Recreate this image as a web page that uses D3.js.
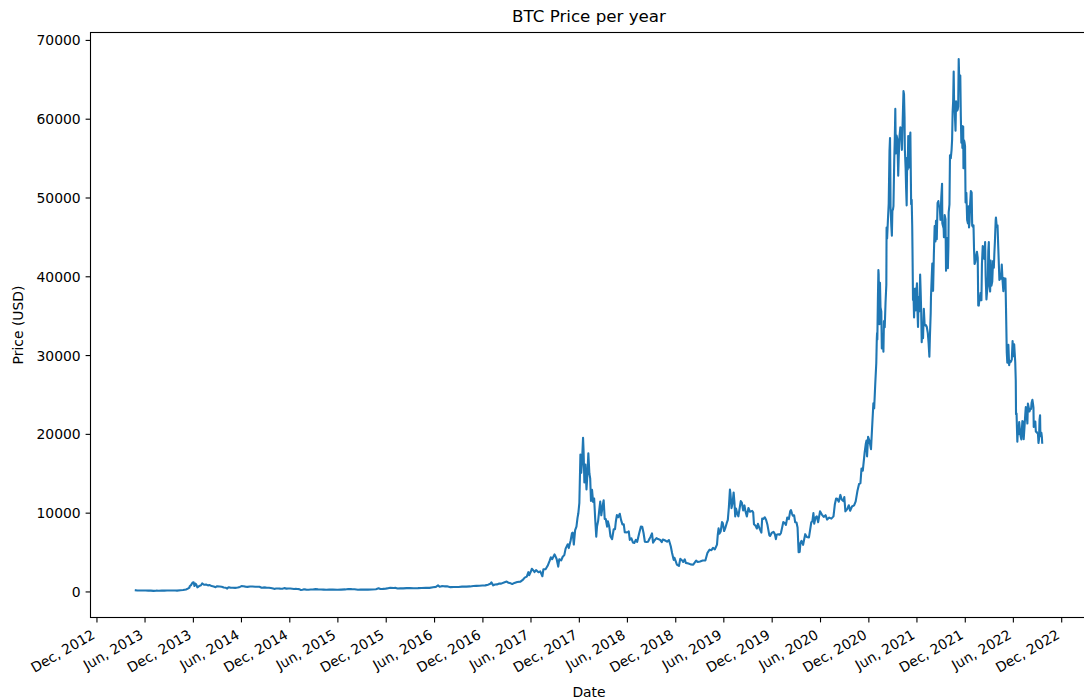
<!DOCTYPE html>
<html>
<head>
<meta charset="utf-8">
<title>BTC Price per year</title>
<script src="https://cdn.jsdelivr.net/npm/d3@7"></script>
<style>
  html, body { margin: 0; padding: 0; background: #fff; }
  svg { display: block; }
  text { font-family: "DejaVu Sans", sans-serif; fill: #000; }
</style>
</head>
<body>
<svg id="chart" width="1084" height="700"></svg>
<script>
// Daily closing prices (USD), sampled per year
const prices2013 = [
  ["2013-04-29",144.5],["2013-05-05",115.9],["2013-05-12",115.0],["2013-05-20",122.0],["2013-05-28",129.5],
  ["2013-06-05",121.4],["2013-06-15",100.4],["2013-06-25",103.5],["2013-07-05",68.4],["2013-07-15",98.2],
  ["2013-07-25",95.0],["2013-08-05",106.2],["2013-08-15",99.0],["2013-08-25",121.0],["2013-09-05",124.5],
  ["2013-09-15",126.0],["2013-09-25",122.0],["2013-10-02",105.0],["2013-10-15",156.0],["2013-10-25",185.0],
  ["2013-11-05",245.0],["2013-11-12",355.0],["2013-11-18",492.0],["2013-11-19",666.0],["2013-11-24",805.0],
  ["2013-11-30",1127.0],["2013-12-04",1151.0],["2013-12-07",704.0],["2013-12-10",1000.0],["2013-12-14",867],
  ["2013-12-18",522.0],["2013-12-22",621],["2013-12-27",734],["2013-12-31",754.0]
];
const prices2014 = [
  ["2014-01-05",1014],["2014-01-12",850],["2014-01-20",871],["2014-01-27",772],["2014-02-03",808],
  ["2014-02-10",681],["2014-02-18",622],["2014-02-25",535],["2014-03-03",667],["2014-03-12",629],
  ["2014-03-20",591],["2014-03-28",492],["2014-04-05",461],["2014-04-10",362],["2014-04-15",524],
  ["2014-04-22",489],["2014-05-01",460],["2014-05-10",453],["2014-05-20",491],["2014-05-28",574],
  ["2014-06-03",671],["2014-06-10",652],["2014-06-18",612],["2014-06-26",582],["2014-07-05",630],
  ["2014-07-15",622],["2014-07-25",599],["2014-08-02",588],["2014-08-10",594],["2014-08-18",467],
  ["2014-08-26",512],["2014-09-05",486],["2014-09-15",475],["2014-09-22",436],["2014-10-01",383],
  ["2014-10-05",322],["2014-10-12",378],["2014-10-20",382],["2014-10-28",357],["2014-11-05",339],
  ["2014-11-12",423],["2014-11-20",358],["2014-11-28",376],["2014-12-05",377],["2014-12-12",350],
  ["2014-12-19",317],["2014-12-26",327],["2014-12-31",320]
];
const prices2015 = [
  ["2015-01-07",294],["2015-01-14",178],["2015-01-20",211],["2015-01-26",274],["2015-02-03",227],
  ["2015-02-12",222],["2015-02-20",244],["2015-02-28",254],["2015-03-10",291],["2015-03-20",262],
  ["2015-03-31",244],["2015-04-10",236],["2015-04-20",224],["2015-05-01",232],["2015-05-15",237],
  ["2015-06-01",223],["2015-06-15",236],["2015-07-01",257],["2015-07-12",310],["2015-07-25",289],
  ["2015-08-05",281],["2015-08-18",211],["2015-08-28",231],["2015-09-10",238],["2015-09-25",234],
  ["2015-10-10",246],["2015-10-25",286],["2015-11-04",403],["2015-11-11",311],["2015-11-20",323],
  ["2015-12-01",362],["2015-12-10",416],["2015-12-18",464],["2015-12-31",430]
];
const prices2016 = [
  ["2016-01-08",453],["2016-01-15",375],["2016-01-25",392],["2016-02-05",386],["2016-02-18",422],
  ["2016-03-01",435],["2016-03-15",415],["2016-04-01",417],["2016-04-15",430],["2016-05-01",452],
  ["2016-05-15",457],["2016-05-28",530],["2016-06-08",582],["2016-06-16",766],["2016-06-22",593],
  ["2016-06-30",673],["2016-07-10",650],["2016-07-20",666],["2016-08-02",547],["2016-08-15",567],
  ["2016-09-01",572],["2016-09-15",607],["2016-10-01",616],["2016-10-15",638],["2016-10-28",689],
  ["2016-11-08",711],["2016-11-20",731],["2016-12-01",756],["2016-12-12",770],["2016-12-22",864],
  ["2016-12-31",963]
];
const prices2017 = [
  ["2017-01-04",1154],["2017-01-11",777],["2017-01-18",872],["2017-01-25",893],["2017-02-01",989],
  ["2017-02-10",995],["2017-02-23",1172],["2017-03-03",1259],["2017-03-10",1100],["2017-03-18",1029],
  ["2017-03-24",937],["2017-04-01",1080],["2017-04-12",1208],["2017-04-24",1251],["2017-05-04",1508],
  ["2017-05-10",1756],["2017-05-18",1885],["2017-05-24",2444],["2017-05-27",2062],["2017-06-02",2493],
  ["2017-06-06",2869],["2017-06-12",2659],["2017-06-16",2465],["2017-06-22",2712],["2017-07-01",2435],
  ["2017-07-08",2545],["2017-07-16",1929],["2017-07-20",2817],["2017-07-28",2809],["2017-08-05",3252],
  ["2017-08-12",3849],["2017-08-17",4332],["2017-08-22",4086],["2017-08-31",4703],["2017-09-02",4583],
  ["2017-09-08",4122],["2017-09-14",3154],["2017-09-18",4093],["2017-09-25",3927],["2017-10-01",4403],
  ["2017-10-07",4611],["2017-10-12",5432],["2017-10-20",5984],["2017-10-24",5505],["2017-10-31",6468],
  ["2017-11-05",7407],["2017-11-08",7459],["2017-11-12",5950],["2017-11-17",7790],["2017-11-22",8232],
  ["2017-11-26",9330],["2017-11-29",9888],["2017-12-03",11246],["2017-12-07",17390],["2017-12-10",15059],
  ["2017-12-13",16408],["2017-12-17",19497],["2017-12-19",17777],["2017-12-22",13831],["2017-12-26",16099],
  ["2017-12-30",12952]
];
const prices2018 = [
  ["2018-01-03",15201],["2018-01-06",17527],["2018-01-10",14973],["2018-01-13",14360],["2018-01-16",11490],
  ["2018-01-20",12899],["2018-01-24",11359],["2018-01-28",11786],["2018-02-01",9170],["2018-02-05",6955],
  ["2018-02-08",8277],["2018-02-12",8926],["2018-02-16",10233],["2018-02-20",11403],["2018-02-24",9665],
  ["2018-03-02",11035],["2018-03-05",11573],["2018-03-09",9206],["2018-03-13",9194],["2018-03-18",8223],
  ["2018-03-21",8915],["2018-03-26",8260],["2018-03-31",6973],["2018-04-06",6636],["2018-04-12",7895],
  ["2018-04-17",7903],["2018-04-20",8845],["2018-04-24",9697],["2018-04-29",9420],["2018-05-05",9858],
  ["2018-05-10",9053],["2018-05-15",8509],["2018-05-20",8531],["2018-05-24",7505],["2018-05-29",7502],
  ["2018-06-04",7514],["2018-06-08",7625],["2018-06-12",6549],["2018-06-18",6745],["2018-06-24",6205],
  ["2018-06-29",6153],["2018-07-05",6550],["2018-07-10",6301],["2018-07-17",7321],["2018-07-24",8243],
  ["2018-07-29",8221],["2018-08-03",7419],["2018-08-08",6305],["2018-08-14",6274],["2018-08-20",6310],
  ["2018-08-26",6709],["2018-08-30",6991],["2018-09-04",7366],["2018-09-08",6186],["2018-09-14",6499],
  ["2018-09-21",6773],["2018-09-27",6646],["2018-10-04",6575],["2018-10-11",6254],["2018-10-15",6598],
  ["2018-10-22",6497],["2018-10-31",6318],["2018-11-07",6531],["2018-11-14",5738],["2018-11-19",4871],
  ["2018-11-25",4009],["2018-11-28",4278],["2018-12-03",3820],["2018-12-07",3419],["2018-12-15",3236],
  ["2018-12-20",4134],["2018-12-24",4016],["2018-12-28",3923],["2018-12-31",3742]
];
const prices2019 = [
  ["2019-01-06",4076],["2019-01-10",3627],["2019-01-20",3545],["2019-01-28",3432],["2019-02-07",3397],
  ["2019-02-18",3914],["2019-02-24",3743],["2019-03-05",3808],["2019-03-15",3924],["2019-03-25",3934],
  ["2019-04-02",4906],["2019-04-10",5307],["2019-04-17",5236],["2019-04-23",5528],["2019-04-30",5350],
  ["2019-05-08",5951],["2019-05-11",7209],["2019-05-14",8000],["2019-05-17",7343],["2019-05-22",7627],
  ["2019-05-27",8805],["2019-05-30",8660],["2019-06-04",7675],["2019-06-08",7998],["2019-06-14",8693],
  ["2019-06-18",9081],["2019-06-22",10701],["2019-06-26",12936],["2019-06-28",12407],["2019-07-02",10578],
  ["2019-07-06",11209],["2019-07-10",12567],["2019-07-13",11353],["2019-07-16",9510],["2019-07-19",10535],
  ["2019-07-24",9846],["2019-07-28",9530],["2019-08-01",10400],["2019-08-06",11460],["2019-08-10",11283],
  ["2019-08-15",10282],["2019-08-20",10917],["2019-08-24",10140],["2019-08-29",9515],["2019-09-04",10594],
  ["2019-09-10",10115],["2019-09-18",10230],["2019-09-22",10030],["2019-09-25",8538],["2019-10-01",8345],
  ["2019-10-06",7989],["2019-10-10",8595],["2019-10-16",8000],["2019-10-23",7465],["2019-10-26",9244],
  ["2019-10-30",9199],["2019-11-05",9412],["2019-11-10",9078],["2019-11-15",8457],["2019-11-22",7146],
  ["2019-11-25",7048],["2019-12-01",7425],["2019-12-08",7570],["2019-12-13",7278],["2019-12-17",6640],
  ["2019-12-20",7189],["2019-12-26",7250],["2019-12-31",7193]
];
const prices2020 = [
  ["2020-01-05",7411],["2020-01-10",8166],["2020-01-14",8812],["2020-01-19",8706],["2020-01-24",8445],
  ["2020-01-29",9392],["2020-02-04",9180],["2020-02-09",10167],["2020-02-12",10326],["2020-02-16",9889],
  ["2020-02-19",9608],["2020-02-24",9663],["2020-02-28",8785],["2020-03-04",8755],["2020-03-08",8108],
  ["2020-03-12",4970],["2020-03-16",5014],["2020-03-19",6191],["2020-03-23",6416],["2020-03-29",5922],
  ["2020-04-06",7271],["2020-04-12",6913],["2020-04-20",6842],["2020-04-29",8787],["2020-05-03",8897],
  ["2020-05-07",9951],["2020-05-10",8601],["2020-05-15",9380],["2020-05-20",9523],["2020-05-25",8790],
  ["2020-06-01",10167],["2020-06-08",9758],["2020-06-15",9456],["2020-06-22",9686],["2020-06-28",9119],
  ["2020-07-06",9375],["2020-07-14",9243],["2020-07-22",9525],["2020-07-27",11029],["2020-08-01",11801],
  ["2020-08-05",11760],["2020-08-11",11393],["2020-08-17",12254],["2020-08-22",11664],["2020-08-28",11469],
  ["2020-09-01",11971],["2020-09-05",10169],["2020-09-12",10442],["2020-09-18",10944],["2020-09-23",10241],
  ["2020-09-30",10784],["2020-10-08",10932],["2020-10-14",11430],["2020-10-21",12823],["2020-10-27",13654],
  ["2020-11-01",13738],["2020-11-05",15590],["2020-11-10",15332],["2020-11-17",17645],["2020-11-21",18675],
  ["2020-11-24",19157],["2020-11-26",17149],["2020-11-30",19625],["2020-12-05",19155],["2020-12-11",18058],
  ["2020-12-16",21310],["2020-12-20",23869],["2020-12-23",23241],["2020-12-27",26273],["2020-12-31",29002]
];
const prices2021 = [
  ["2021-01-02",32128],["2021-01-03",32782],["2021-01-04",31971],["2021-01-06",36825],["2021-01-08",40797],
  ["2021-01-09",40254],["2021-01-11",35566],["2021-01-12",33923],["2021-01-14",39187],["2021-01-16",36069],
  ["2021-01-19",35547],["2021-01-21",30826],["2021-01-23",32067],["2021-01-25",32289],["2021-01-27",30433],
  ["2021-01-29",34318],["2021-02-01",33537],["2021-02-04",36630],["2021-02-07",38903],["2021-02-08",46196],
  ["2021-02-10",44807],["2021-02-13",47105],["2021-02-16",49199],["2021-02-19",55888],["2021-02-21",57539],
  ["2021-02-22",54207],["2021-02-23",48824],["2021-02-26",46340],["2021-02-28",45137],["2021-03-02",48378],
  ["2021-03-04",48436],["2021-03-06",48912],["2021-03-09",54824],["2021-03-11",57332],["2021-03-13",61243],
  ["2021-03-15",55605],["2021-03-18",57858],["2021-03-21",57351],["2021-03-24",52774],["2021-03-26",55137],
  ["2021-03-29",57750],["2021-04-01",58918],["2021-04-04",58758],["2021-04-07",56048],["2021-04-10",59793],
  ["2021-04-13",63503],["2021-04-15",63109],["2021-04-17",60204],["2021-04-18",56216],["2021-04-21",53787],
  ["2021-04-23",51094],["2021-04-25",49004],["2021-04-27",55033],["2021-04-29",53556],["2021-05-01",57807],
  ["2021-05-04",53805],["2021-05-07",57356],["2021-05-09",58232],["2021-05-12",49150],["2021-05-14",49717],
  ["2021-05-16",46424],["2021-05-17",43538],["2021-05-19",37002],["2021-05-21",37537],["2021-05-23",34771],
  ["2021-05-25",38402],["2021-05-27",38437],["2021-05-29",35678],["2021-05-31",37333],["2021-06-03",39097],
  ["2021-06-05",35520],["2021-06-07",33560],["2021-06-09",37345],["2021-06-12",35552],["2021-06-15",40218],
  ["2021-06-17",38053],["2021-06-19",35483],["2021-06-21",31637],["2021-06-23",33723],["2021-06-26",32127],
  ["2021-06-29",35867],["2021-07-02",33855],["2021-07-05",33747],["2021-07-07",33798],["2021-07-10",33588],
  ["2021-07-14",32822],["2021-07-17",31534],["2021-07-20",29807],["2021-07-22",32287],["2021-07-25",35351],
  ["2021-07-26",37337],["2021-07-29",40009],["2021-07-31",41627],["2021-08-03",38152],["2021-08-06",42816],
  ["2021-08-09",46365],["2021-08-12",44429],["2021-08-14",47047],["2021-08-17",44695],["2021-08-20",49321],
  ["2021-08-23",49546],["2021-08-25",48898],["2021-08-28",48897],["2021-08-31",47166],["2021-09-03",50035],
  ["2021-09-06",51753],["2021-09-07",46737],["2021-09-09",46434],["2021-09-12",46063],["2021-09-13",44963],
  ["2021-09-16",47761],["2021-09-19",47260],["2021-09-21",40693],["2021-09-23",44895],["2021-09-26",43208],
  ["2021-09-28",41034],["2021-09-30",43791],["2021-10-01",48116],["2021-10-04",49112],["2021-10-06",55361],
  ["2021-10-09",54968],["2021-10-12",56041],["2021-10-14",57321],["2021-10-16",60862],["2021-10-18",62211],
  ["2021-10-20",65993],["2021-10-22",60930],["2021-10-24",60894],["2021-10-27",58482],["2021-10-29",62210],
  ["2021-11-01",61004],["2021-11-04",61125],["2021-11-06",61527],["2021-11-08",67566],["2021-11-10",64995],
  ["2021-11-12",64155],["2021-11-14",65466],["2021-11-16",60368],["2021-11-18",56942],["2021-11-20",59111],
  ["2021-11-22",56289],["2021-11-25",59010],["2021-11-26",53727],["2021-11-28",57274],["2021-11-30",57006],
  ["2021-12-02",56509],["2021-12-04",49368],["2021-12-07",50582],["2021-12-10",47128],["2021-12-13",46707],
  ["2021-12-15",48896],["2021-12-17",46202],["2021-12-19",46880],["2021-12-21",48993],["2021-12-24",50810],
  ["2021-12-27",50640],["2021-12-29",46444],["2021-12-31",46306]
];
const prices2022 = [
  ["2022-01-03",46459],["2022-01-05",43503],["2022-01-07",41557],["2022-01-10",41822],["2022-01-13",42592],
  ["2022-01-16",43113],["2022-01-19",42375],["2022-01-21",36301],["2022-01-23",36276],["2022-01-24",36654],
  ["2022-01-27",37138],["2022-01-30",37917],["2022-02-02",36953],["2022-02-04",41574],["2022-02-07",43840],
  ["2022-02-10",43565],["2022-02-13",42199],["2022-02-16",44338],["2022-02-18",40030],["2022-02-21",37069],
  ["2022-02-24",38332],["2022-02-26",39105],["2022-02-28",43193],["2022-03-02",44358],["2022-03-04",39137],
  ["2022-03-07",38062],["2022-03-09",41983],["2022-03-12",38809],["2022-03-15",39336],["2022-03-18",41940],
  ["2022-03-21",41077],["2022-03-23",42916],["2022-03-25",44348],["2022-03-28",47128],["2022-03-29",47465],
  ["2022-04-01",46282],["2022-04-04",46453],["2022-04-07",43445],["2022-04-11",39530],["2022-04-14",39945],
  ["2022-04-17",39690],["2022-04-20",41502],["2022-04-23",39469],["2022-04-26",38117],["2022-04-28",39773],
  ["2022-05-01",38469],["2022-05-04",39698],["2022-05-06",36040],["2022-05-09",30297],["2022-05-11",29030],
  ["2022-05-12",29020],["2022-05-15",31305],["2022-05-18",28720],["2022-05-20",29268],["2022-05-23",29098],
  ["2022-05-26",29268],["2022-05-28",29445],["2022-05-31",31792],["2022-06-03",29864],["2022-06-06",31370],
  ["2022-06-08",30214],["2022-06-10",29091],["2022-06-12",26762],["2022-06-13",22487],["2022-06-15",22572],
  ["2022-06-18",19017],["2022-06-20",20553],["2022-06-22",19970],["2022-06-25",21500],["2022-06-27",20735],
  ["2022-06-30",19785],["2022-07-03",19297],["2022-07-07",21611],["2022-07-09",21587],["2022-07-12",19325],
  ["2022-07-15",20825],["2022-07-18",22485],["2022-07-20",23389],["2022-07-23",22579],["2022-07-26",21310],
  ["2022-07-28",23842],["2022-07-31",23337],["2022-08-03",22846],["2022-08-06",23175],["2022-08-09",23164],
  ["2022-08-11",23957],["2022-08-14",24319],["2022-08-16",23881],["2022-08-18",23336],["2022-08-19",20877],
  ["2022-08-22",21525],["2022-08-25",21565],["2022-08-27",20260],["2022-08-29",20297],["2022-09-01",20127],
  ["2022-09-04",19992],["2022-09-06",18837],["2022-09-08",19322],["2022-09-10",21770],["2022-09-12",22371],
  ["2022-09-13",20296],["2022-09-15",19701],["2022-09-17",20127],["2022-09-19",19545],["2022-09-20",18876]
];

// Axis ticks
const yTickValues = [0, 10000, 20000, 30000, 40000, 50000, 60000, 70000];
const xTickDates = [
  "2012-12-01","2013-06-01","2013-12-01","2014-06-01","2014-12-01","2015-06-01","2015-12-01",
  "2016-06-01","2016-12-01","2017-06-01","2017-12-01","2018-06-01","2018-12-01","2019-06-01",
  "2019-12-01","2020-06-01","2020-12-01","2021-06-01","2021-12-01","2022-06-01","2022-12-01"
];

const parseDate = d3.utcParse("%Y-%m-%d");
const rows = [].concat(prices2013, prices2014, prices2015, prices2016, prices2017,
                       prices2018, prices2019, prices2020, prices2021, prices2022)
  .map(([d, v]) => ({ date: parseDate(d), close: v }));

// Plot frame (the right edge runs slightly past the canvas)
const frame = { left: 90.5, right: 1087.5, top: 32.5, bottom: 617.5 };
const FONT = 13.9;

// 5% padding around the data on both axes
const [d0, d1] = d3.extent(rows, r => r.date);
const xPad = (d1 - d0) * 0.05;
const [v0, v1] = d3.extent(rows, r => r.close);
const yPad = (v1 - v0) * 0.05;

const x = d3.scaleUtc()
  .domain([new Date(+d0 - xPad), new Date(+d1 + xPad)])
  .range([frame.left, frame.right]);
const y = d3.scaleLinear()
  .domain([v0 - yPad, v1 + yPad])
  .range([frame.bottom, frame.top]);

const svg = d3.select("#chart");

svg.append("defs").append("clipPath").attr("id", "plot-clip")
  .append("rect")
  .attr("x", frame.left).attr("y", frame.top)
  .attr("width", frame.right - frame.left).attr("height", frame.bottom - frame.top);

// Price line
const line = d3.line().x(r => x(r.date)).y(r => y(r.close));
svg.append("path")
  .datum(rows)
  .attr("clip-path", "url(#plot-clip)")
  .attr("fill", "none")
  .attr("stroke", "#1f77b4")
  .attr("stroke-width", 2.1)
  .attr("stroke-linejoin", "round")
  .attr("stroke-linecap", "square")
  .attr("d", line);

// Spines
svg.append("rect")
  .attr("x", frame.left).attr("y", frame.top)
  .attr("width", frame.right - frame.left).attr("height", frame.bottom - frame.top)
  .attr("fill", "none").attr("stroke", "#000").attr("stroke-width", 1.1);

// X axis
const fmt = d3.utcFormat("%b, %Y");
const xAxis = d3.axisBottom(x)
  .tickValues(xTickDates.map(parseDate))
  .tickSize(4.9).tickSizeOuter(0)
  .tickFormat(fmt);
const gx = svg.append("g")
  .attr("transform", `translate(0,${frame.bottom})`)
  .call(xAxis);
gx.select(".domain").remove();
gx.selectAll(".tick line").attr("stroke", "#000").attr("stroke-width", 1.1);
gx.selectAll(".tick text")
  .attr("font-size", FONT)
  .attr("font-family", "DejaVu Sans, sans-serif")
  .attr("fill", "#000")
  .attr("text-anchor", "end")
  .attr("y", null).attr("dy", null)
  .attr("transform", "translate(-1,20) rotate(-30)");

// Y axis
const yAxis = d3.axisLeft(y)
  .tickValues(yTickValues)
  .tickSize(4.9).tickSizeOuter(0)
  .tickPadding(4.9)
  .tickFormat(d3.format("d"));
const gy = svg.append("g")
  .attr("transform", `translate(${frame.left},0)`)
  .call(yAxis);
gy.select(".domain").remove();
gy.selectAll(".tick line").attr("stroke", "#000").attr("stroke-width", 1.1);
gy.selectAll(".tick text")
  .attr("font-size", FONT)
  .attr("font-family", "DejaVu Sans, sans-serif")
  .attr("fill", "#000")
  .attr("dy", "0.36em");

const midX = (frame.left + frame.right) / 2;

// Title and axis labels
svg.append("text")
  .attr("x", midX).attr("y", 22)
  .attr("text-anchor", "middle")
  .attr("font-size", 16.7)
  .text("BTC Price per year");

svg.append("text")
  .attr("x", midX).attr("y", 697)
  .attr("text-anchor", "middle")
  .attr("font-size", FONT)
  .text("Date");

svg.append("text")
  .attr("transform", `translate(23,${(frame.top + frame.bottom) / 2}) rotate(-90)`)
  .attr("text-anchor", "middle")
  .attr("font-size", FONT)
  .text("Price (USD)");
</script>
</body>
</html>
